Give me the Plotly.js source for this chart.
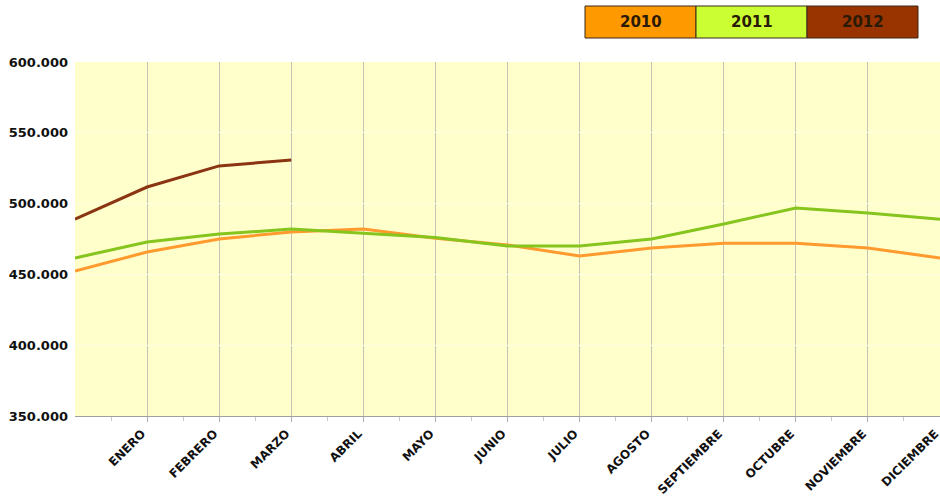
<!DOCTYPE html>
<html>
<head>
<meta charset="utf-8">
<script src="https://cdn.plot.ly/plotly-3.0.1.min.js"></script>
<style>html,body{margin:0;padding:0;background:#fff;}#chart{width:940px;height:498px;}</style>
</head>
<body>
<div id="chart"></div>
<script>
// Month labels (ticks 1..12); point 0 is the unlabeled start at the left edge
const months = ["ENERO","FEBRERO","MARZO","ABRIL","MAYO","JUNIO","JULIO","AGOSTO","SEPTIEMBRE","OCTUBRE","NOVIEMBRE","DICIEMBRE"];
const years = ["2010","2011","2012"];
const values2010 = [452.4, 465.8, 475.0, 480.0, 482.0, 475.5, 470.8, 463.0, 468.6, 472.0, 472.0, 468.6, 461.6];
const values2011 = [461.6, 472.9, 478.5, 482.0, 479.0, 476.0, 470.0, 470.0, 475.0, 485.6, 496.9, 493.4, 489.0];
const values2012 = [489.1, 511.7, 526.6, 530.8];
const yTicks = [350, 400, 450, 500, 550, 600];
const yTickText = ["350.000","400.000","450.000","500.000","550.000","600.000"];

const lineColors = ["#FF9a2e", "#86c41e", "#8a3412"];
const legendColors = ["#FF9900", "#CCFF33", "#993300"];
const series = [values2010, values2011, values2012];

const traces = series.map((vals, i) => ({
  type: "scatter",
  mode: "lines",
  x: vals.map((v, j) => j),
  y: vals,
  name: years[i],
  line: {color: lineColors[i], width: 3},
  hoverinfo: "x+y"
}));

// Legend boxes drawn as shapes + annotations (paper coords relative to plot area)
const L = 75, W = 865, T = 62, H = 354;
const shapes = [];
const annotations = [];
const legX0 = 585, legW = 111, legY0 = 6, legY1 = 38;
years.forEach((yr, i) => {
  const x0 = (legX0 + i * legW - L) / W, x1 = (legX0 + (i + 1) * legW - L) / W;
  const y0 = 1 - (legY1 - T) / H, y1 = 1 - (legY0 - T) / H;
  shapes.push({type: "rect", xref: "paper", yref: "paper",
    x0: x0, x1: x1, y0: y0, y1: y1,
    fillcolor: legendColors[i], line: {color: "#3a2a1a", width: 1}, layer: "above"});
  annotations.push({xref: "paper", yref: "paper", x: (x0 + x1) / 2, y: (y0 + y1) / 2,
    text: "<b>" + yr + "</b>", showarrow: false, xanchor: "center", yanchor: "middle",
    font: {family: "DejaVu Sans", size: 15, color: "#2a1a08"}});
});

const layout = {
  width: 940, height: 498,
  margin: {l: L, r: 0, t: T, b: 498 - T - H},
  paper_bgcolor: "#ffffff",
  plot_bgcolor: "#ffffcc",
  showlegend: false,
  shapes: shapes,
  annotations: annotations,
  xaxis: {
    range: [0, 12],
    tickvals: months.map((m, i) => i + 1),
    ticktext: months,
    tickangle: -45,
    ticklabeloverflow: "allow",
    ticklabelshift: -5,
    showgrid: true,
    gridcolor: "#c4c4b4",
    gridwidth: 1,
    zeroline: false,
    showline: true,
    linecolor: "#a0a0a0",
    ticks: "outside",
    ticklen: 5,
    tickcolor: "#b0b0b0",
    minor: {tickvals: months.map((m, i) => i + 0.5), ticks: "outside", ticklen: 4, tickcolor: "#c8c8c8", showgrid: false},
    tickfont: {family: "DejaVu Sans", size: 12, color: "#111111", weight: "bold"},
    automargin: false,
    fixedrange: true
  },
  yaxis: {
    range: [350, 600],
    tickvals: yTicks,
    ticktext: yTickText,
    showgrid: true,
    gridcolor: "#fefee4",
    zeroline: false,
    showline: false,
    ticks: "",
    ticklabelstandoff: 6,
    tickfont: {family: "DejaVu Sans", size: 13, color: "#111111", weight: "bold"},
    automargin: false,
    fixedrange: true
  }
};

Plotly.newPlot("chart", traces, layout, {displayModeBar: false, staticPlot: true});
</script>
</body>
</html>
